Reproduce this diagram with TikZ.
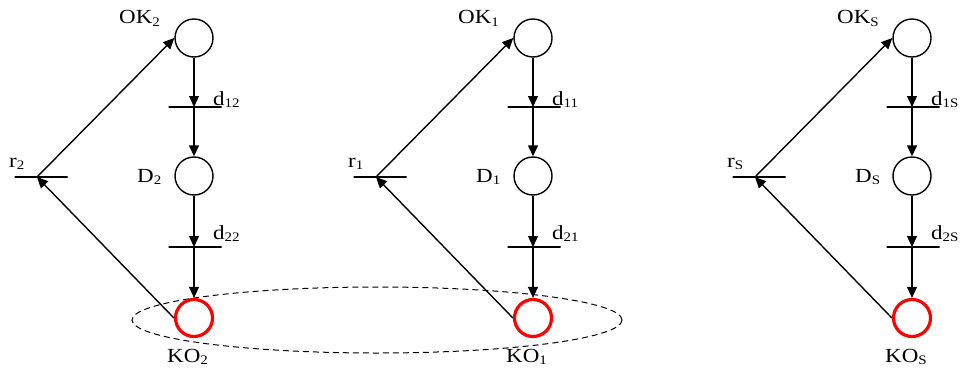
\documentclass[tikz,border=0pt]{standalone}
\usepackage{fontspec}
\usepackage{graphicx}
\setmainfont{Liberation Serif}
\usetikzlibrary{arrows.meta}
\newcommand{\mysub}[1]{\raisebox{-2.5pt}{\fontsize{13}{13}\selectfont #1}}
\newcommand{\lbltext}[1]{\scalebox{1.15}[1]{#1}}
\begin{document}
\begin{tikzpicture}[x=1pt,y=-1pt,
  place/.style={circle,draw,line width=1.4pt,minimum size=38pt,inner sep=0pt},
  failplace/.style={circle,draw=red,line width=3.2pt,minimum size=37pt,inner sep=0pt},
  trans/.style={draw,line width=1.4pt,minimum width=53pt,minimum height=0pt,inner sep=0pt,outer sep=0pt},
  lbl/.style={anchor=base west,inner sep=0pt,font=\fontsize{20}{23}\selectfont},
  arc/.style={-{Triangle[length=11pt,width=10pt]},line width=1.4pt},
  group/.style={dash pattern=on 6pt off 4pt,line width=1pt}
]
\useasboundingbox (0,0) rectangle (960,369);
\draw[group] (377,320) ellipse [x radius=245pt, y radius=33pt];
\foreach \cx/\i in {194/2,533/1,912/S}{
  \node[place] (ok\i) at (\cx,38) {};
  \node[place] (D\i) at (\cx,176) {};
  \node[failplace] (ko\i) at (\cx,318) {};
  \node[trans] (da\i) at (\cx+1,107) {};
  \node[trans] (db\i) at (\cx+1,247) {};
  \node[trans] (r\i) at (\cx-153,177) {};
  \coordinate (rp\i) at (\cx-157,177);
  \node[lbl] (lok\i) at (\cx-75,24) {\lbltext{OK\mysub{\i}}};
  \node[lbl] (lda\i) at (\cx+19,105) {\lbltext{d\mysub{1\i}}};
  \node[lbl] (lD\i) at (\cx-57,182) {\lbltext{D\mysub{\i}}};
  \node[lbl] (ldb\i) at (\cx+19,239) {\lbltext{d\mysub{2\i}}};
  \node[lbl] (lr\i) at (\cx-185,167) {\lbltext{r\mysub{\i}}};
  \node[lbl] (lko\i) at (\cx-27,362) {\lbltext{KO\mysub{\i}}};
  \draw[arc] (ok\i.south) -- (ok\i.south |- da\i.center);
  \draw[arc] (ok\i.south |- da\i.center) -- (D\i.north);
  \draw[arc] (D\i.south) -- (D\i.south |- db\i.center);
  \draw[arc] (D\i.south |- db\i.center) -- (ko\i.north);
  \draw[arc] (rp\i) -- (ok\i.west);
  \draw[arc] (ko\i.west) -- (rp\i);
}
\end{tikzpicture}
\end{document}
